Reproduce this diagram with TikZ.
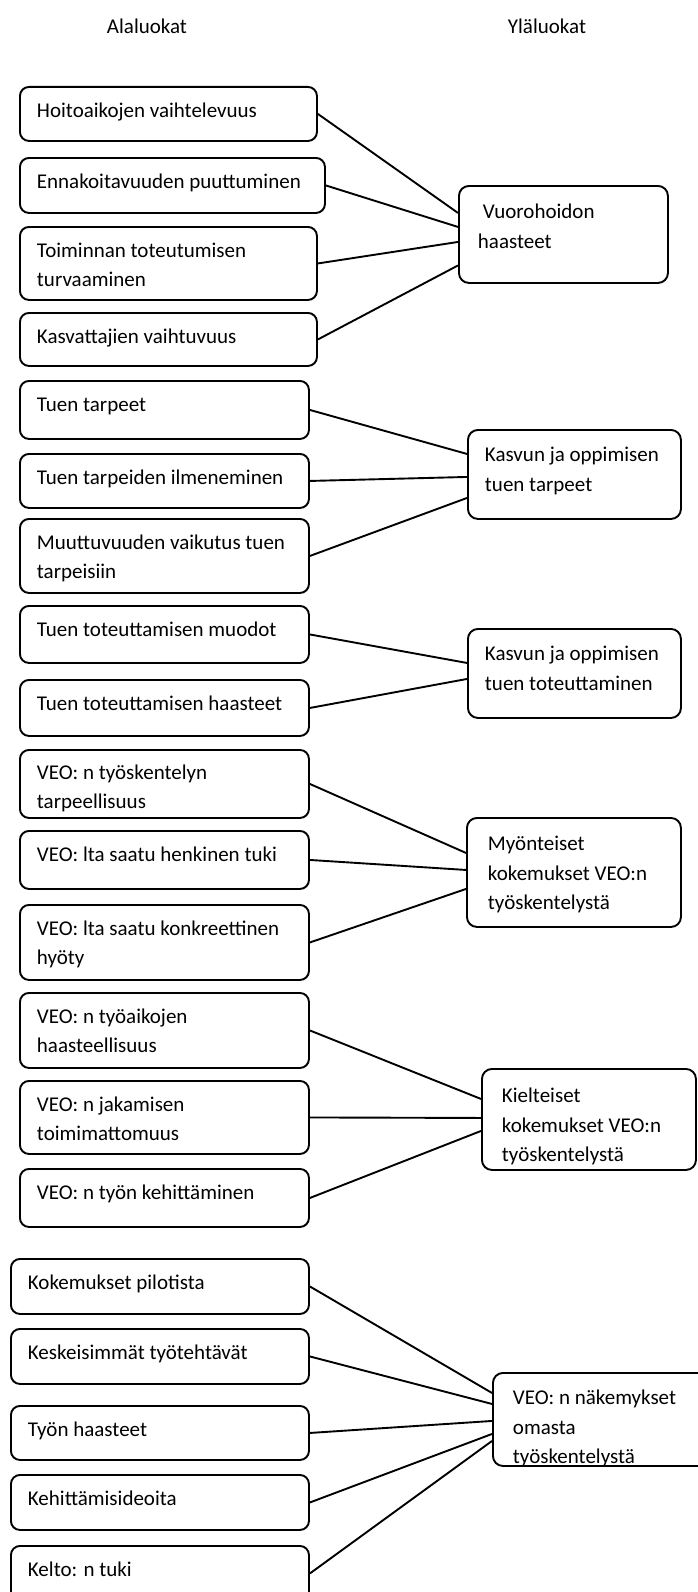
\documentclass[tikz,border=0pt]{standalone}
\usepackage{fontspec}
\setmainfont{Carlito}
\newcommand{\bxt}[4]{\parbox[c][#2][t]{#1}{\raggedright\rule{0pt}{#3}#4\par}}
\begin{document}
\begin{tikzpicture}[x=1pt,y=-1pt,
  lbox/.style={draw, line width=1.9pt, rounded corners=9pt, anchor=north west,
    inner xsep=17pt, inner ysep=0pt, font=\fontsize{21}{29}\selectfont},
  rbox/.style={draw, line width=1.9pt, rounded corners=10pt, anchor=north west,
    inner ysep=0pt, font=\fontsize{21}{29.5}\selectfont},
  hdr/.style={font=\fontsize{21}{26}\selectfont, inner sep=0pt},
  conn/.style={line width=1.9pt}]
\useasboundingbox[fill=white] (0,0) rectangle (697,1592);

\node[hdr, anchor=base] (h1) at (147,34) {Alaluokat};
\node[hdr, anchor=base] (h2) at (547,34) {Yläluokat};

% left boxes
\node[lbox] (b1) at (19,86) {\bxt{263pt}{54pt}{31pt}{\mbox{Hoitoaikojen vaihtelevuus}}};
\node[lbox] (b2) at (19,157) {\bxt{271pt}{55pt}{31pt}{\mbox{Ennakoitavuuden puuttuminen}}};
\node[lbox] (b3) at (19,226) {\bxt{263pt}{73pt}{31pt}{\mbox{Toiminnan toteutumisen}\\\mbox{turvaaminen}}};
\node[lbox] (b4) at (19,312) {\bxt{263pt}{53pt}{31pt}{\mbox{Kasvattajien vaihtuvuus}}};
\node[lbox] (b5) at (19,380) {\bxt{255pt}{58pt}{31pt}{\mbox{Tuen tarpeet}}};
\node[lbox] (b6) at (19,453) {\bxt{255pt}{54pt}{31pt}{\mbox{Tuen tarpeiden ilmeneminen}}};
\node[lbox] (b7) at (19,518) {\bxt{255pt}{74pt}{31pt}{\mbox{Muuttuvuuden vaikutus tuen}\\\mbox{tarpeisiin}}};
\node[lbox] (b8) at (19,605) {\bxt{255pt}{57pt}{31pt}{\mbox{Tuen toteuttamisen muodot}}};
\node[lbox] (b9) at (19,679) {\bxt{255pt}{56pt}{31pt}{\mbox{Tuen toteuttamisen haasteet}}};
\node[lbox] (b10) at (19,749) {\bxt{255pt}{68pt}{30pt}{\mbox{VEO: n työskentelyn}\\\mbox{tarpeellisuus}}};
\node[lbox] (b11) at (19,830) {\bxt{255pt}{58pt}{31pt}{\mbox{VEO: lta saatu henkinen tuki}}};
\node[lbox] (b12) at (19,904) {\bxt{255pt}{75pt}{31pt}{\mbox{VEO: lta saatu konkreettinen}\\\mbox{hyöty}}};
\node[lbox] (b13) at (19,992) {\bxt{255pt}{75pt}{31pt}{\mbox{VEO: n työaikojen}\\\mbox{haasteellisuus}}};
\node[lbox] (b14) at (19,1080) {\bxt{255pt}{73pt}{31pt}{\mbox{VEO: n jakamisen}\\\mbox{toimimattomuus}}};
\node[lbox] (b15) at (19,1168) {\bxt{255pt}{58pt}{31pt}{\mbox{VEO: n työn kehittäminen}}};
\node[lbox] (b16) at (10,1258) {\bxt{264pt}{55pt}{31pt}{\mbox{Kokemukset pilotista}}};
\node[lbox] (b17) at (10,1328) {\bxt{264pt}{55pt}{31pt}{\mbox{Keskeisimmät työtehtävät}}};
\node[lbox] (b18) at (10,1405) {\bxt{264pt}{54pt}{31pt}{\mbox{Työn haasteet}}};
\node[lbox] (b19) at (10,1474) {\bxt{264pt}{55pt}{31pt}{\mbox{Kehittämisideoita}}};
\node[lbox] (b20) at (10,1545) {\bxt{264pt}{55pt}{31pt}{\mbox{Kelto: n tuki}}};

% right boxes
\node[rbox, inner xsep=19pt] (r1) at (458,185) {\bxt{171pt}{97pt}{33pt}{\mbox{\hspace{5pt}Vuorohoidon}\\\mbox{haasteet}}};
\node[rbox, inner xsep=17pt] (r2) at (467,429) {\bxt{179pt}{89pt}{32pt}{\mbox{Kasvun ja oppimisen}\\\mbox{tuen tarpeet}}};
\node[rbox, inner xsep=17pt] (r3) at (467,628) {\bxt{179pt}{89pt}{32pt}{\mbox{Kasvun ja oppimisen}\\\mbox{tuen toteuttaminen}}};
\node[rbox, inner xsep=21pt] (r4) at (466,817) {\bxt{172pt}{109pt}{33pt}{\mbox{Myönteiset}\\\mbox{kokemukset VEO:n}\\\mbox{työskentelystä}}};
\node[rbox, inner xsep=20pt] (r5) at (481,1068) {\bxt{174pt}{101pt}{34pt}{\mbox{Kielteiset}\\\mbox{kokemukset VEO:n}\\\mbox{työskentelystä}}};
\node[rbox, inner xsep=20pt] (r6) at (492,1372) {\bxt{180pt}{93pt}{32pt}{\mbox{VEO: n näkemykset}\\\mbox{omasta}\\\mbox{työskentelystä}}};

% connectors
\draw[conn] (b1.east) -- ([yshift=21.5pt]r1.west);
\draw[conn] (b2.east) -- ([yshift=7.5pt]r1.west);
\draw[conn] (b3.east) -- ([yshift=-7.5pt]r1.west);
\draw[conn] (b4.east) -- ([yshift=-31pt]r1.west);
\draw[conn] (b5.east) -- ([yshift=20.5pt]r2.west);
\draw[conn] (b6.east) -- ([yshift=-2.5pt]r2.west);
\draw[conn] (b7.east) -- ([yshift=-23.5pt]r2.west);
\draw[conn] (b8.east) -- ([yshift=10.5pt]r3.west);
\draw[conn] (b9.east) -- ([yshift=-5.5pt]r3.west);
\draw[conn] (b10.east) -- ([yshift=19.5pt]r4.west);
\draw[conn] (b11.east) -- ([yshift=2.5pt]r4.west);
\draw[conn] (b12.east) -- ([yshift=-16.5pt]r4.west);
\draw[conn] (b13.east) -- ([yshift=20.5pt]r5.west);
\draw[conn] (b14.east) -- ([yshift=1.5pt]r5.west);
\draw[conn] (b15.east) -- ([yshift=-11.5pt]r5.west);
\draw[conn] (b16.east) -- ([yshift=26.5pt]r6.west);
\draw[conn] (b17.east) -- ([yshift=15.5pt]r6.west);
\draw[conn] (b18.east) -- ([yshift=-1.5pt]r6.west);
\draw[conn] (b19.east) -- ([yshift=-14.5pt]r6.west);
\draw[conn] (b20.east) -- ([yshift=-21.5pt]r6.west);
\end{tikzpicture}
\end{document}
